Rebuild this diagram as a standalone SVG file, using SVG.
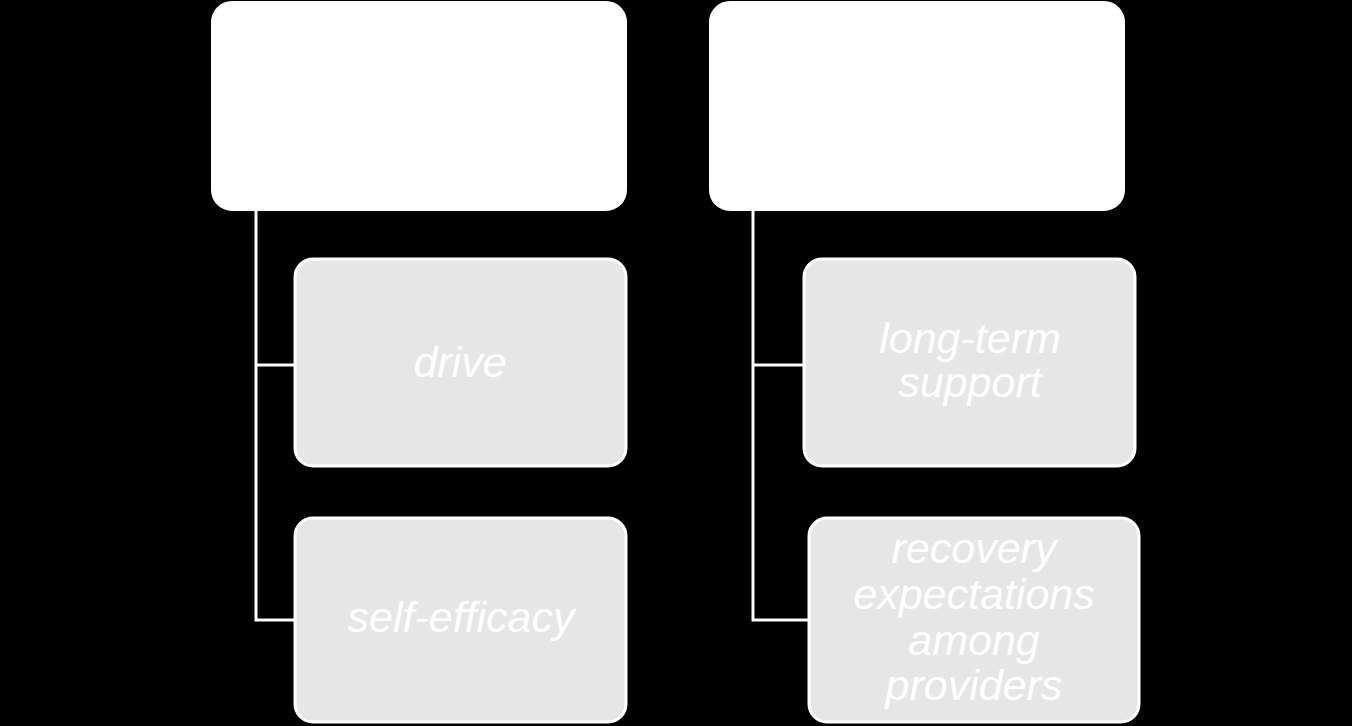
<svg xmlns="http://www.w3.org/2000/svg" width="1352" height="726" viewBox="0 0 1352 726">
<style>
.top{fill:#ffffff;stroke:#ffffff;stroke-width:2}
.child{fill:#e6e6e6;stroke:#ffffff;stroke-width:3}
.lbl{fill:#ffffff;font-family:"Liberation Sans",Arial,sans-serif;font-style:italic;font-size:43px;text-anchor:middle}
.conn{fill:none;stroke:#ffffff;stroke-width:3}
</style>
<rect width="1352" height="726" fill="#000000"/>
<g id="connectors">
<path class="conn" d="M256,211 V620 H294 M256,365 H294"/>
<path class="conn" d="M753,211 V620 H808 M753,365 H803"/>
</g>
<g id="top-left"><rect class="top" x="212" y="2" width="414" height="208" rx="20"/></g>
<g id="top-right"><rect class="top" x="710" y="2" width="414" height="208" rx="20"/></g>
<g id="drive"><rect class="child" x="295" y="259" width="331" height="207" rx="18"/><text class="lbl" x="460" y="377">drive</text></g>
<g id="self-efficacy"><rect class="child" x="295" y="518" width="331" height="204" rx="18"/><text class="lbl" x="461" y="632">self-efficacy</text></g>
<g id="long-term-support"><rect class="child" x="804" y="259" width="331" height="207" rx="18"/><text class="lbl" x="970" y="353">long-term</text><text class="lbl" x="970" y="397">support</text></g>
<g id="recovery"><rect class="child" x="809" y="518" width="330" height="204" rx="18"/><text class="lbl" x="974" y="563">recovery</text><text class="lbl" x="974" y="609">expectations</text><text class="lbl" x="974" y="655">among</text><text class="lbl" x="974" y="700">providers</text></g>
</svg>
